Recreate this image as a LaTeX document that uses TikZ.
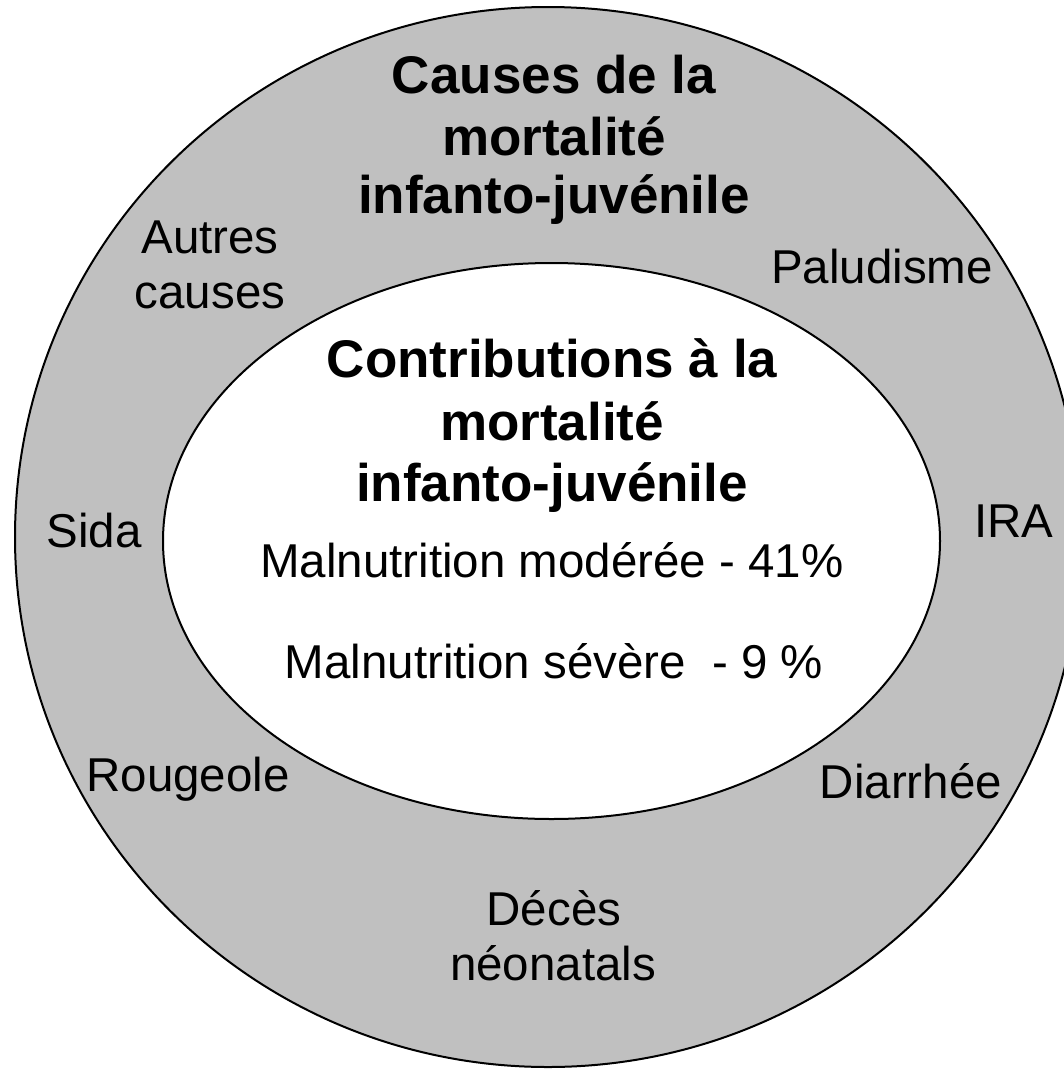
\documentclass[tikz,border=0pt]{standalone}
\usepackage{fontspec}
\setmainfont{Liberation Sans}
\definecolor{ringgrey}{HTML}{C0C0C0}
\tikzset{
  ring/.style={draw=black, line width=2pt},
  lbl/.style={anchor=base, inner sep=0pt, font=\fontsize{47.5}{55}\selectfont},
  ttl/.style={anchor=base, inner sep=0pt, font=\fontsize{53}{60}\selectfont\bfseries},
}
\begin{document}
\begin{tikzpicture}[x=1pt,y=-1pt]
\useasboundingbox (0,0) rectangle (1064,1069);
\clip (0,0) rectangle (1064,1069);
\fill[white] (0,0) rectangle (1064,1069);
\draw[ring, fill=ringgrey] (548,537) ellipse [x radius=533pt, y radius=530pt];
\draw[ring, fill=white] (551.5,541) ellipse [x radius=388.5pt, y radius=278pt];
% outer title
\node[ttl] (t1) at (554,93) {Causes de la};
\node[ttl] (t2) at (554,155) {mortalité};
\node[ttl] (t3) at (554,213) {infanto-juvénile};
% inner title
\node[ttl] (c1) at (552,377) {Contributions à la};
\node[ttl] (c2) at (552,440) {mortalité};
\node[ttl] (c3) at (552,501) {infanto-juvénile};
\node[lbl] (m1) at (552,577) {Malnutrition modérée - 41\%};
\node[lbl] (m2) at (554,678) {Malnutrition sévère\ \ - 9 \%};
% causes
\node[lbl] (a1) at (210,253) {Autres};
\node[lbl] (a2) at (210,308) {causes};
\node[lbl] (pal) at (882,283) {Paludisme};
\node[lbl] (sida) at (94,547) {Sida};
\node[lbl] (ira) at (1014,537) {IRA};
\node[lbl] (rou) at (188,791) {Rougeole};
\node[lbl] (dia) at (911,798) {Diarrhée};
\node[lbl] (d1) at (554,925) {Décès};
\node[lbl] (d2) at (553,980) {néonatals};
\end{tikzpicture}
\end{document}
